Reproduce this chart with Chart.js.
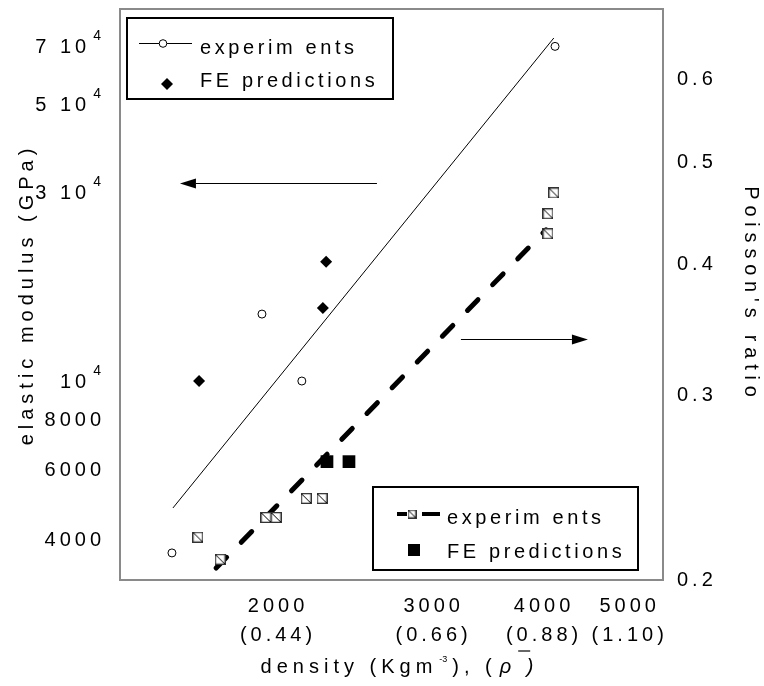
<!DOCTYPE html>
<html>
<head>
<meta charset="utf-8">
<script src="https://cdn.jsdelivr.net/npm/chart.js@4.4.1/dist/chart.umd.min.js"></script>
<style>
  html, body { margin: 0; padding: 0; background: #fff; }
  #wrap { width: 764px; height: 686px; }
  canvas { display: block; }
</style>
</head>
<body>
<div id="wrap"><canvas id="chart" width="764" height="686"></canvas></div>
<script>
// Elastic modulus (left axis) against density
const modulusExpDensity = [1517, 1918, 2128, 4116];
const modulusExpValues  = [3680, 14760, 10000, 70000];
const modulusFeDensity  = [1628, 2248, 2267];
const modulusFeValues   = [10000, 15300, 20000];
const modulusFitDensity = [1521, 4103];
const modulusFitValues  = [4780, 73500];

// Poisson's ratio (right axis) against density
const poissonExpDensity = [1623, 1720, 1938, 1990, 2152, 2243, 4041, 4041, 4103];
const poissonExpValues  = [0.2197, 0.2093, 0.2294, 0.2294, 0.2392, 0.2392, 0.4275, 0.4467, 0.4675];
const poissonFeDensity  = [2272, 2406];
const poissonFeValues   = [0.2593, 0.2593];
const poissonFitDensity = [1702, 4021];
const poissonFitValues  = [0.2053, 0.4312];

// Axis ticks
const densityTicks = [2000, 3000, 4000, 5000];
const relativeDensityLabels = ['(0.44)', '(0.66)', '(0.88)', '(1.10)'];
const modulusTicks = [4000, 6000, 8000, 10000, 30000, 50000, 70000];
const modulusTickBase = ['4000', '6000', '8000', '10', '3 10', '5 10', '7 10'];
const modulusTickExp  = ['', '', '', '4', '4', '4', '4'];
const poissonTicks = [0.2, 0.3, 0.4, 0.5, 0.6];
const poissonTickLabels = ['0.2', '0.3', '0.4', '0.5', '0.6'];

// Direction arrows (which curve belongs to which axis), in data units
const modulusArrow = { fromX: 2588, toX: 1549, y: 31623 };
const poissonArrow = { fromX: 3221, toX: 4484, y: 0.339 };

const FONT = "'Liberation Sans', Arial, Helvetica, sans-serif";
const TICK_SPACING = '4px';
const LEGEND_SPACING = '3.6px';
const TITLE_SPACING = '5px';

function pairs(xs, ys) { return xs.map((x, i) => ({ x: x, y: ys[i] })); }

// open square with one diagonal
function makeHatchedSquare(size) {
  const c = document.createElement('canvas');
  c.width = size; c.height = size;
  const g = c.getContext('2d');
  g.fillStyle = '#fff';
  g.fillRect(0, 0, size, size);
  g.strokeStyle = '#333';
  g.lineWidth = 1.3;
  g.strokeRect(0.65, 0.65, size - 1.3, size - 1.3);
  g.strokeStyle = '#000';
  g.lineWidth = 1;
  g.beginPath();
  g.moveTo(1, 1);
  g.lineTo(size - 1, size - 1);
  g.stroke();
  return c;
}
const hatched = makeHatchedSquare(11);
const hatchedSmall = makeHatchedSquare(9);

function drawArrow(ctx, x1, y, x2) {
  const dir = Math.sign(x2 - x1);
  const head = 16, half = 5;
  ctx.beginPath();
  ctx.moveTo(x1, y);
  ctx.lineTo(x2 - dir * head, y);
  ctx.stroke();
  ctx.beginPath();
  ctx.moveTo(x2, y);
  ctx.lineTo(x2 - dir * head, y - half);
  ctx.lineTo(x2 - dir * head, y + half);
  ctx.closePath();
  ctx.fill();
}

function drawLegendBox(ctx, x, y, w, h) {
  ctx.fillStyle = '#fff';
  ctx.fillRect(x, y, w, h);
  ctx.strokeStyle = '#000';
  ctx.lineWidth = 2;
  ctx.strokeRect(x, y, w, h);
}

const decor = {
  id: 'decor',
  beforeDraw(chart) {
    chart.ctx.letterSpacing = TICK_SPACING;
  },
  beforeDatasetsDraw(chart) {
    const { ctx, chartArea: a } = chart;
    ctx.save();
    ctx.strokeStyle = '#8a8a8a';
    ctx.lineWidth = 2;
    ctx.strokeRect(a.left, a.top, a.right - a.left, a.bottom - a.top);
    ctx.restore();
  },
  afterDatasetsDraw(chart) {
    const { ctx, chartArea: a, scales } = chart;
    const ds = chart.data.datasets;
    ctx.save();
    ctx.strokeStyle = '#000';
    ctx.fillStyle = '#000';
    ctx.lineWidth = 1;

    // arrows
    drawArrow(ctx, scales.x.getPixelForValue(modulusArrow.fromX), Math.round(scales.y.getPixelForValue(modulusArrow.y)) + 0.5,
              scales.x.getPixelForValue(modulusArrow.toX));
    drawArrow(ctx, scales.x.getPixelForValue(poissonArrow.fromX), Math.round(scales.y1.getPixelForValue(poissonArrow.y)) + 0.5,
              scales.x.getPixelForValue(poissonArrow.toX));

    ctx.letterSpacing = LEGEND_SPACING;
    ctx.font = '20px ' + FONT;
    ctx.textBaseline = 'alphabetic';
    ctx.textAlign = 'left';

    // legend for the modulus series
    let bx = a.left + 7, by = a.top + 9;
    drawLegendBox(ctx, bx, by, 266, 81);
    ctx.fillStyle = '#000';
    ctx.strokeStyle = '#000';
    ctx.lineWidth = 1;
    ctx.beginPath();
    ctx.moveTo(bx + 12, by + 25.5);
    ctx.lineTo(bx + 65, by + 25.5);
    ctx.stroke();
    ctx.beginPath();
    ctx.arc(bx + 36, by + 25.5, 3.8, 0, Math.PI * 2);
    ctx.fillStyle = '#fff';
    ctx.fill();
    ctx.stroke();
    ctx.fillStyle = '#000';
    ctx.fillText(ds[0].label, bx + 73, by + 36);
    ctx.beginPath();
    const dx = bx + 40, dy = by + 66, r = 6;
    ctx.moveTo(dx - r, dy); ctx.lineTo(dx, dy - r); ctx.lineTo(dx + r, dy); ctx.lineTo(dx, dy + r);
    ctx.closePath();
    ctx.fill();
    ctx.fillText(ds[1].label, bx + 73, by + 69);

    // legend for the Poisson's ratio series
    bx = a.left + 253; by = a.top + 478;
    drawLegendBox(ctx, bx, by, 265, 83);
    ctx.fillStyle = '#000';
    ctx.strokeStyle = '#000';
    ctx.lineWidth = 4;
    ctx.lineCap = 'butt';
    ctx.beginPath();
    ctx.moveTo(bx + 24, by + 27); ctx.lineTo(bx + 34, by + 27);
    ctx.moveTo(bx + 49, by + 27); ctx.lineTo(bx + 67, by + 27);
    ctx.stroke();
    ctx.drawImage(hatchedSmall, bx + 39 - 4.5, by + 27 - 4.5);
    ctx.fillText(ds[3].label, bx + 74, by + 37);
    ctx.fillRect(bx + 35, by + 57, 12, 12);
    ctx.fillText(ds[4].label, bx + 74, by + 71);
    ctx.restore();
  },
  afterDraw(chart) {
    const { ctx, chartArea: a, scales } = chart;
    ctx.save();
    ctx.fillStyle = '#000';
    ctx.strokeStyle = '#000';
    ctx.textBaseline = 'alphabetic';
    ctx.textAlign = 'left';
    ctx.letterSpacing = TICK_SPACING;
    const sp = parseFloat(TICK_SPACING);

    // modulus tick labels, with raised exponents
    const ys = scales.y;
    const right = ys.right - 19;
    modulusTicks.forEach((v, i) => {
      const py = ys.getPixelForValue(v);
      const base = modulusTickBase[i], exp = modulusTickExp[i];
      ctx.font = '20px ' + FONT;
      const wb = ctx.measureText(base).width;
      ctx.font = '14px ' + FONT;
      const we = exp ? ctx.measureText(exp).width : 0;
      const total = exp ? wb + 3 + we - sp : wb - sp;
      const x0 = right - total;
      ctx.font = '20px ' + FONT;
      ctx.fillText(base, x0, py + 7);
      if (exp) {
        ctx.font = '14px ' + FONT;
        ctx.fillText(exp, x0 + wb + 3, py - 6.5);
      }
    });

    // axis titles
    ctx.letterSpacing = TITLE_SPACING;
    ctx.font = '20px ' + FONT;
    const midY = (a.top + a.bottom) / 2;
    ctx.textAlign = 'center';
    ctx.save();
    ctx.translate(33, midY);
    ctx.rotate(-Math.PI / 2);
    ctx.fillText('elastic modulus (GPa)', 0, 0);
    ctx.restore();

    ctx.save();
    ctx.letterSpacing = '5.8px';
    ctx.translate(745, midY);
    ctx.rotate(Math.PI / 2);
    ctx.fillText("Poisson's ratio", 0, 0);
    ctx.restore();

    // density title with unit exponent and relative-density symbol
    ctx.textAlign = 'left';
    const pieces = [
      { t: 'density (Kgm', f: '20px ' + FONT, dy: 0, ls: TITLE_SPACING },
      { t: '-3', f: '9px ' + FONT, dy: -11, ls: '0px', pad: 4 },
      { t: '), (', f: '20px ' + FONT, dy: 0, ls: TITLE_SPACING, pad: 6 },
      { t: '\u03C1', f: 'italic 20px ' + FONT, dy: 0, ls: TITLE_SPACING, bar: true },
      { t: ' )', f: 'italic 20px ' + FONT, dy: 0, ls: TITLE_SPACING }
    ];
    let total = 0;
    pieces.forEach(p => {
      ctx.font = p.f; ctx.letterSpacing = p.ls;
      p.w = ctx.measureText(p.t).width + (p.pad || 0);
      total += p.w;
    });
    let x = (a.left + a.right) / 2 + 8 - total / 2;
    const base = 673;
    pieces.forEach(p => {
      ctx.font = p.f; ctx.letterSpacing = p.ls;
      ctx.fillText(p.t, x + (p.pad || 0) / 2, base + p.dy);
      if (p.bar) {
        ctx.lineWidth = 1.2;
        ctx.beginPath();
        ctx.moveTo(x + p.w + 2, base - 22);
        ctx.lineTo(x + p.w + 14, base - 22);
        ctx.stroke();
      }
      x += p.w;
    });
    ctx.restore();
  }
};

const tickFont = { family: FONT, size: 20 };

new Chart(document.getElementById('chart'), {
  type: 'scatter',
  data: {
    datasets: [
      {
        label: 'experim ents',
        data: pairs(modulusExpDensity, modulusExpValues),
        yAxisID: 'y',
        pointStyle: 'circle', pointRadius: 4,
        backgroundColor: '#fff', borderColor: '#000', borderWidth: 1
      },
      {
        label: 'FE predictions',
        data: pairs(modulusFeDensity, modulusFeValues),
        yAxisID: 'y',
        pointStyle: 'rectRot', pointRadius: 6,
        backgroundColor: '#000', borderColor: '#000', borderWidth: 0
      },
      {
        label: 'modulus trend',
        data: pairs(modulusFitDensity, modulusFitValues),
        yAxisID: 'y',
        showLine: true, pointRadius: 0,
        borderColor: '#000', borderWidth: 1, tension: 0
      },
      {
        label: 'experim ents',
        data: pairs(poissonExpDensity, poissonExpValues),
        yAxisID: 'y1',
        pointStyle: hatched, pointRadius: 5,
        backgroundColor: '#fff', borderColor: '#000'
      },
      {
        label: 'FE predictions',
        data: pairs(poissonFeDensity, poissonFeValues),
        yAxisID: 'y1',
        pointStyle: 'rect', pointRadius: 9,
        backgroundColor: '#000', borderColor: '#000', borderWidth: 0
      },
      {
        label: 'Poisson trend',
        data: pairs(poissonFitDensity, poissonFitValues),
        yAxisID: 'y1',
        showLine: true, pointRadius: 0,
        borderColor: '#000', borderWidth: 5,
        borderDash: [15, 21], borderCapStyle: 'round', tension: 0
      }
    ]
  },
  options: {
    responsive: false,
    animation: false,
    events: [],
    devicePixelRatio: 1,
    layout: { padding: { top: 9, left: 0, right: 0, bottom: 0 } },
    plugins: { legend: { display: false }, tooltip: { enabled: false } },
    scales: {
      x: {
        type: 'logarithmic', position: 'bottom',
        min: 1325, max: 5453,
        grid: { display: false, drawTicks: false },
        border: { display: false },
        afterBuildTicks: s => { s.ticks = densityTicks.map(v => ({ value: v })); },
        ticks: {
          autoSkip: false, maxRotation: 0, minRotation: 0,
          padding: 12, color: '#000',
          font: { family: FONT, size: 20, lineHeight: 1.45 },
          callback: (v, i) => [String(densityTicks[i]), relativeDensityLabels[i]]
        },
        afterFit: s => { s.height = 106; s.paddingLeft = 0; s.paddingRight = 0; }
      },
      y: {
        type: 'logarithmic', position: 'left',
        min: 3144, max: 87000,
        grid: { display: false, drawTicks: false },
        border: { display: false },
        afterBuildTicks: s => { s.ticks = modulusTicks.map(v => ({ value: v })); },
        ticks: { display: false },
        afterFit: s => { s.width = 120; s.paddingTop = 0; s.paddingBottom = 0; }
      },
      y1: {
        type: 'logarithmic', position: 'right',
        min: 0.2, max: 0.70,
        grid: { display: false, drawTicks: false },
        border: { display: false },
        afterBuildTicks: s => { s.ticks = poissonTicks.map(v => ({ value: v })); },
        ticks: {
          padding: 14, color: '#000', font: tickFont,
          callback: (v, i) => poissonTickLabels[i]
        },
        afterFit: s => { s.width = 101; s.paddingTop = 0; s.paddingBottom = 0; }
      }
    }
  },
  plugins: [decor]
});
</script>
</body>
</html>
